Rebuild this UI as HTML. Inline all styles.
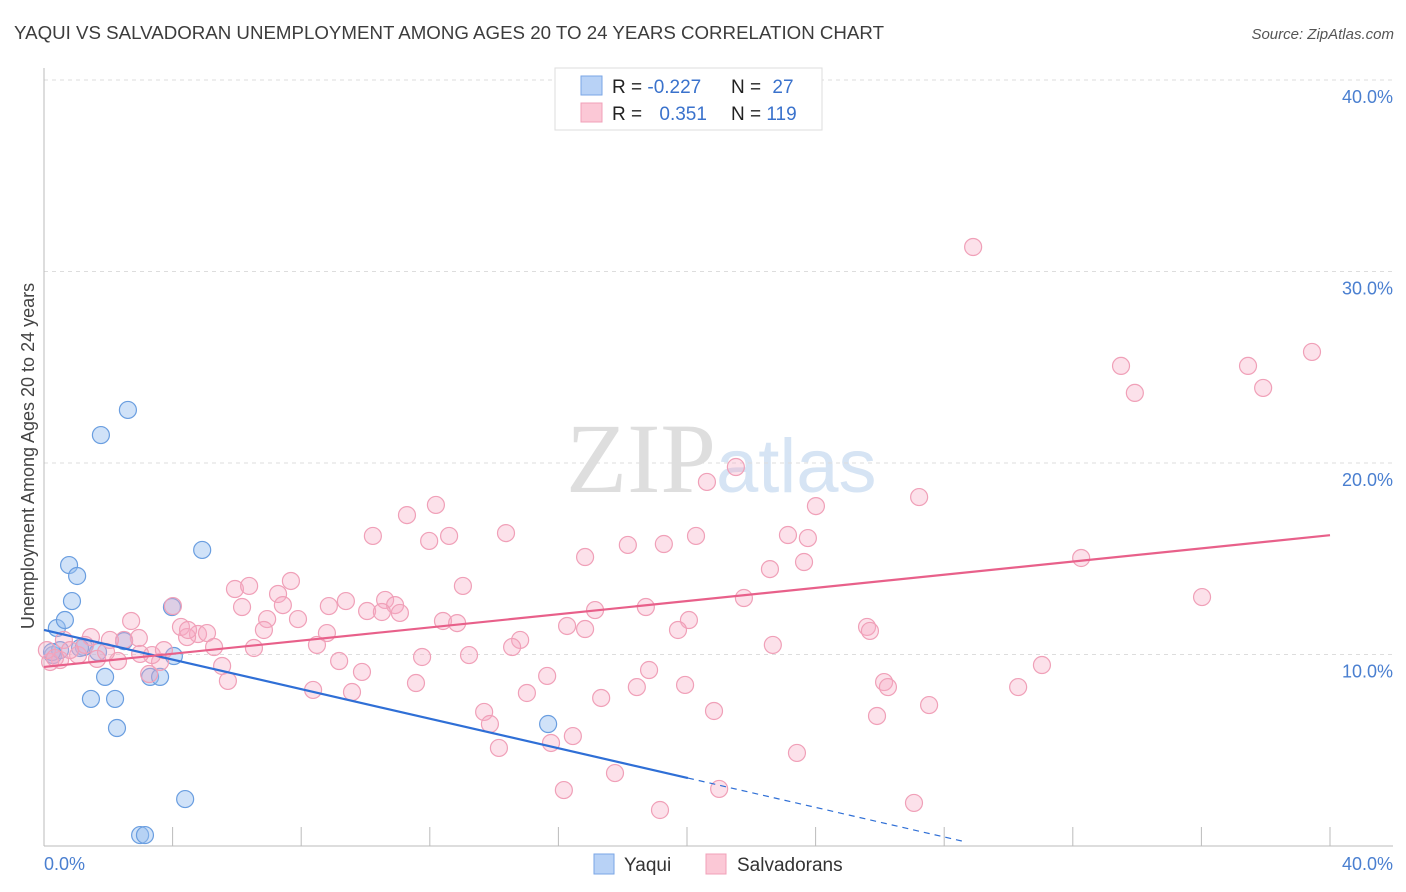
<!DOCTYPE html>
<html><head><meta charset="utf-8"><style>
body{margin:0;background:#fff;font-family:"Liberation Sans",sans-serif}
svg{display:block}
</style></head><body>
<svg width="1406" height="892" xmlns="http://www.w3.org/2000/svg">
<text x="14" y="39" font-size="18" fill="#3c3c3c" textLength="870" lengthAdjust="spacingAndGlyphs">YAQUI VS SALVADORAN UNEMPLOYMENT AMONG AGES 20 TO 24 YEARS CORRELATION CHART</text>
<text x="1394" y="39" font-size="15" fill="#555" font-style="italic" text-anchor="end">Source: ZipAtlas.com</text>
<text x="716" y="492" font-size="100" fill="#dedede" font-family="Liberation Serif,serif" text-anchor="end">ZIP</text>
<text x="716" y="492" font-size="76" fill="#d6e4f4">atlas</text>
<g id="grid"></g>
<g id="axes"></g>
<g id="marks"></g>
<text transform="translate(34,456) rotate(-90)" font-size="18" fill="#444" text-anchor="middle">Unemployment Among Ages 20 to 24 years</text>
<text x="44" y="870" font-size="18" fill="#4a7fd0">0.0%</text>
<text x="1393" y="870" font-size="18" fill="#4a7fd0" text-anchor="end">40.0%</text>
<g>
<rect x="555" y="68" width="267" height="62" fill="#fff" stroke="#ddd"/>
<rect x="581" y="76" width="21" height="19" fill="#b8d2f6" stroke="#7aa6e6"/>
<rect x="581" y="103" width="21" height="19" fill="#fbc8d6" stroke="#f0a0b8"/>
<text x="612" y="93" font-size="19" fill="#222">R = <tspan fill="#3a72cc">-0.227</tspan></text>
<text x="731" y="93" font-size="19" fill="#222">N = <tspan fill="#3a72cc" dx="6">27</tspan></text>
<text x="612" y="120" font-size="19" fill="#222">R = <tspan fill="#3a72cc" dx="12">0.351</tspan></text>
<text x="731" y="120" font-size="19" fill="#222">N = <tspan fill="#3a72cc">119</tspan></text>
</g>
<g>
<rect x="594" y="854" width="20" height="20" fill="#b8d2f6" stroke="#7aa6e6"/>
<text x="624" y="871" font-size="19" fill="#333">Yaqui</text>
<rect x="706" y="854" width="20" height="20" fill="#fbc8d6" stroke="#f0a0b8"/>
<text x="737" y="871" font-size="19" fill="#333">Salvadorans</text>
</g>
</svg>
<script>
const yTicks=[10,20,30,40];
const yTickLabels=["10.0%","20.0%","30.0%","40.0%"];
const xTicks=[0,4,8,12,16,20,24,28,32,36,40];
const yaquiX=[0.28,0.40,0.65,0.78,0.87,1.03,1.24,1.77,1.90,1.46,2.21,2.27,2.49,2.61,3.30,3.61,3.98,4.04,4.39,4.92,2.99,3.14,15.68,0.50,0.25,1.12,1.68];
const yaquiY=[9.97,11.38,11.80,14.67,12.79,14.10,10.39,21.46,8.83,7.68,7.68,6.16,10.70,22.77,8.83,8.83,12.48,9.92,2.45,15.46,0.57,0.57,6.37,10.23,10.13,10.34,10.13];
const salvX=[28.90,33.50,37.45,39.44,33.93,37.92,21.52,20.62,27.22,24.01,12.19,11.29,10.23,12.60,14.37,11.98,16.83,18.16,19.28,20.28,23.14,23.76,23.64,22.58,32.26,36.02,13.03,7.68,5.94,6.38,7.28,7.43,6.16,6.94,7.90,8.86,9.39,10.05,10.61,10.92,11.07,10.51,12.41,12.85,17.14,18.72,21.77,20.06,19.72,16.83,16.27,25.60,25.69,6.84,4.01,4.26,4.79,5.07,4.45,5.29,2.71,2.95,2.49,2.05,1.46,0.62,8.80,8.49,6.53,4.48,14.81,14.56,22.67,11.76,13.22,9.18,9.89,5.54,5.72,3.61,3.36,2.30,1.65,1.06,0.50,0.19,0.09,1.93,3.27,8.37,9.58,11.57,15.02,15.65,17.33,18.44,18.82,19.94,20.84,26.13,26.25,27.53,30.30,31.04,13.69,13.87,14.15,15.77,16.45,17.76,16.17,19.16,21.00,23.42,25.91,27.06,3.73,2.99,1.28,0.81,0.34];
const salvY=[31.28,25.07,25.07,25.80,23.66,23.92,19.79,19.01,18.22,17.75,17.81,17.28,16.19,16.19,16.34,15.93,15.09,15.72,15.77,16.19,16.24,16.08,14.83,14.46,15.04,13.00,13.58,13.84,13.42,13.58,13.16,12.58,12.48,11.85,11.85,12.53,12.79,12.27,12.85,12.58,12.17,12.22,11.75,11.64,12.32,12.48,12.95,11.80,11.28,11.33,11.49,11.44,11.23,11.28,12.53,11.44,11.07,11.12,10.91,10.39,11.75,10.86,10.76,10.76,10.91,10.76,11.12,10.50,10.34,11.28,10.76,10.39,10.50,9.87,9.97,9.66,9.09,9.40,8.62,9.61,9.97,9.66,9.77,9.97,9.71,9.61,10.23,10.13,8.98,8.15,8.04,8.51,7.99,8.88,7.73,8.30,9.19,8.41,7.05,8.56,8.30,7.36,8.30,9.45,7.00,6.37,5.12,5.38,5.74,3.81,2.92,1.88,2.98,4.86,6.79,2.25,10.23,10.03,10.50,10.23,9.82];
const yaquiTrend=[11.28,-0.386];
const salvTrend=[9.35,0.172];
const NS="http://www.w3.org/2000/svg";
const X=v=>44+v*32.15, Y=v=>846-v*19.15;
function mk(tag,attrs,parent){const e=document.createElementNS(NS,tag);for(const k in attrs)e.setAttribute(k,attrs[k]);parent.appendChild(e);return e;}
const grid=document.getElementById('grid'),axes=document.getElementById('axes'),marks=document.getElementById('marks');
yTicks.forEach((t,i)=>{
 const l=mk('line',{x1:44,x2:1393,y1:Y(t),y2:Y(t),stroke:'#ddd','stroke-dasharray':'4,4'},grid);
 
 
 const tx=mk('text',{x:1393,y:Y(t)+23,'font-size':18,fill:'#4a7fd0','text-anchor':'end'},grid);
 tx.textContent=yTickLabels[i];
 
 
});
const ya=mk('line',{x1:44,x2:44,y1:68,y2:846,stroke:'#bbb'},axes);


const xa=mk('line',{x1:44,x2:1393,y1:846,y2:846,stroke:'#bbb'},axes);


xTicks.slice(1).forEach(t=>{
 const l=mk('line',{x1:X(t),x2:X(t),y1:827,y2:846,stroke:'#bbb'},axes);
 
 
});
yaquiX.forEach((x,i)=>{
 const c=mk('circle',{cx:X(x),cy:Y(yaquiY[i]),r:8.5,fill:'rgba(150,190,240,0.45)',stroke:'#6a9ee0','stroke-width':1.2},marks);
 
 
});
salvX.forEach((x,i)=>{
 const c=mk('circle',{cx:X(x),cy:Y(salvY[i]),r:8.5,fill:'rgba(246,170,195,0.35)',stroke:'#f0a0b8','stroke-width':1.2},marks);
 
 
});
const yEnd=20.03, yDashEnd=28.7;
const b1=mk('line',{x1:X(0),y1:Y(yaquiTrend[0]),x2:X(yEnd),y2:Y(yaquiTrend[0]+yaquiTrend[1]*yEnd),stroke:'#2f6fd6','stroke-width':2.2},marks);


const b2=mk('line',{x1:X(yEnd),y1:Y(yaquiTrend[0]+yaquiTrend[1]*yEnd),x2:X(yDashEnd),y2:Y(Math.max(0,yaquiTrend[0]+yaquiTrend[1]*yDashEnd)),stroke:'#2f6fd6','stroke-width':1.2,'stroke-dasharray':'6,5'},marks);


const p=mk('line',{x1:X(0),y1:Y(salvTrend[0]),x2:X(40),y2:Y(salvTrend[0]+salvTrend[1]*40),stroke:'#e8608a','stroke-width':2.2},marks);


</script>
</body></html>
